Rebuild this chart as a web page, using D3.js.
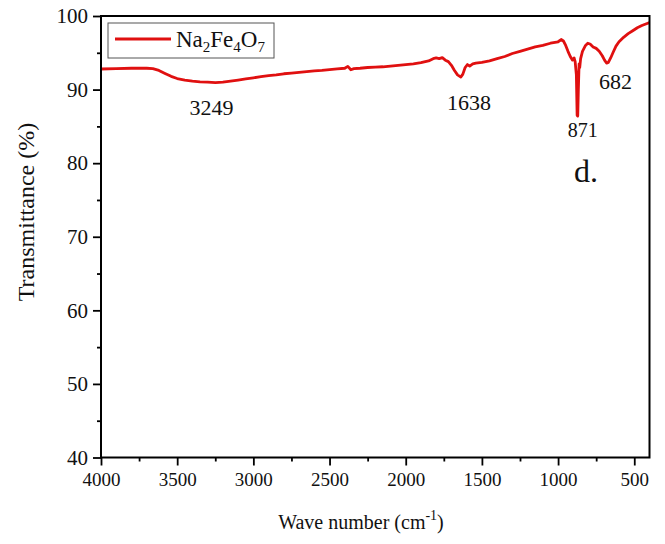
<!DOCTYPE html>
<html><head><meta charset="utf-8">
<script src="https://cdn.jsdelivr.net/npm/d3@7"></script>
<style>
html,body{margin:0;padding:0;background:#fff;}
svg text{font-family:"Liberation Serif","Times New Roman",serif;fill:#111;}
</style></head>
<body>
<svg id="chart" width="665" height="544"></svg>
<script>
const wavenumber = [4000,3900,3800,3700,3660,3620,3580,3540,3500,3450,3400,3350,3300,3249,3200,3150,3100,3050,3000,2950,2900,2850,2800,2750,2700,2650,2600,2550,2500,2450,2400,2380,2360,2340,2300,2250,2200,2150,2100,2050,2000,1950,1900,1850,1820,1800,1780,1760,1740,1720,1700,1680,1660,1638,1625,1610,1595,1580,1560,1540,1500,1450,1400,1350,1300,1250,1200,1150,1100,1050,1000,980,965,950,935,920,905,895,888,880,875,871,867,862,858,852,840,820,805,790,770,750,730,710,695,682,670,655,640,620,600,570,540,510,480,450,420,400];
const transmittance = [92.8,92.85,92.9,92.9,92.85,92.6,92.2,91.8,91.5,91.3,91.15,91.05,91.0,90.95,91.0,91.15,91.3,91.45,91.6,91.75,91.9,92.0,92.15,92.25,92.35,92.45,92.55,92.6,92.7,92.8,92.9,93.15,92.7,92.85,92.9,93.0,93.05,93.1,93.2,93.3,93.4,93.5,93.65,93.9,94.2,94.3,94.2,94.35,94.0,93.8,93.3,92.6,92.0,91.7,92.1,93.0,93.4,93.2,93.5,93.6,93.7,93.9,94.2,94.5,94.9,95.2,95.5,95.8,96.0,96.3,96.5,96.8,96.6,96.0,95.2,94.5,94.0,94.3,93.8,92.0,86.5,86.4,90.0,93.5,93.0,94.2,95.2,96.0,96.3,96.2,95.8,95.6,95.2,94.6,94.0,93.6,93.7,94.3,95.0,95.9,96.5,97.1,97.6,98.0,98.4,98.7,98.95,99.1];
const xTicks = [4000,3500,3000,2500,2000,1500,1000,500];
const xMinor = [3750,3250,2750,2250,1750,1250,750];
const yTicks = [40,50,60,70,80,90,100];
const yMinor = [45,55,65,75,85,95];
const peakLabels = ["3249","1638","871","682"];
const peakPos = [3249,1638,871,682];
const peakVal = [86.55,87.2,83.55,90.1];
const seriesName = "Na2Fe4O7";

const svg = d3.select("#chart");
const m = {l:101, r:649.5, t:16, b:457.5};
const x = d3.scaleLinear().domain([4000,400]).range([m.l, m.r]);
const y = d3.scaleLinear().domain([40,100]).range([m.b, m.t]);

// curve
const data = wavenumber.map((w,i)=>({w, t:transmittance[i]}));
svg.append("path").datum(data)
  .attr("fill","none").attr("stroke","#e01010").attr("stroke-width",2.8)
  .attr("stroke-linejoin","round")
  .attr("d", d3.line().x(d=>x(d.w)).y(d=>y(d.t)));

// x axis
const gx = svg.append("g").attr("transform",`translate(0,${m.b})`)
  .call(d3.axisBottom(x).tickValues(xTicks).tickSize(8).tickPadding(7).tickFormat(d3.format("d")));
gx.selectAll("text").attr("font-size",19).style("font-family","Liberation Serif");
svg.append("g").attr("transform",`translate(0,${m.b})`)
  .call(d3.axisBottom(x).tickValues(xMinor).tickSize(4).tickFormat(""));
// y axis
const gy = svg.append("g").attr("transform",`translate(${m.l},0)`)
  .call(d3.axisLeft(y).tickValues(yTicks).tickSize(8).tickPadding(5));
gy.selectAll("text").attr("font-size",21).style("font-family","Liberation Serif");
svg.append("g").attr("transform",`translate(${m.l},0)`)
  .call(d3.axisLeft(y).tickValues(yMinor).tickSize(4).tickFormat(""));
svg.selectAll(".domain").remove();
svg.selectAll(".tick line").attr("stroke","#000").attr("stroke-width",1.8);
svg.selectAll(".tick text").attr("fill","#111");

// frame
svg.append("rect").attr("x",m.l).attr("y",m.t).attr("width",m.r-m.l).attr("height",m.b-m.t)
  .attr("fill","none").attr("stroke","#000").attr("stroke-width",2);

// peak labels (small horizontal nudges as in the original figure)
const nudge = [-4, 8, 5, 9];
peakLabels.forEach((s,i)=>{
  svg.append("text").attr("x",x(peakPos[i]) + nudge[i]).attr("y",y(peakVal[i]))
    .attr("text-anchor","middle").attr("font-size",i===2?20:22).text(s);
});
svg.append("text").attr("x",574).attr("y",182).attr("font-size",32).text("d.");

// legend
svg.append("rect").attr("x",108).attr("y",23).attr("width",166).attr("height",35)
  .attr("fill","#fff").attr("stroke","#555").attr("stroke-width",1);
svg.append("line").attr("x1",115).attr("x2",171).attr("y1",39).attr("y2",39)
  .attr("stroke","#e01010").attr("stroke-width",2.8);
const lt = svg.append("text").attr("x",176).attr("y",47).attr("font-size",23);
lt.append("tspan").text("Na");
lt.append("tspan").attr("font-size",15).attr("dy",5).text("2");
lt.append("tspan").attr("dy",-5).text("Fe");
lt.append("tspan").attr("font-size",15).attr("dy",5).text("4");
lt.append("tspan").attr("dy",-5).text("O");
lt.append("tspan").attr("font-size",15).attr("dy",5).text("7");

// axis titles
const xt = svg.append("text").attr("x",361).attr("y",529).attr("text-anchor","middle").attr("font-size",20);
xt.append("tspan").text("Wave number (cm");
xt.append("tspan").attr("font-size",14).attr("dy",-9).text("-1");
xt.append("tspan").attr("dy",9).text(")");
svg.append("text").attr("transform","translate(34,212) rotate(-90)")
  .attr("text-anchor","middle").attr("font-size",24).text("Transmittance (%)");
</script>
</body></html>
